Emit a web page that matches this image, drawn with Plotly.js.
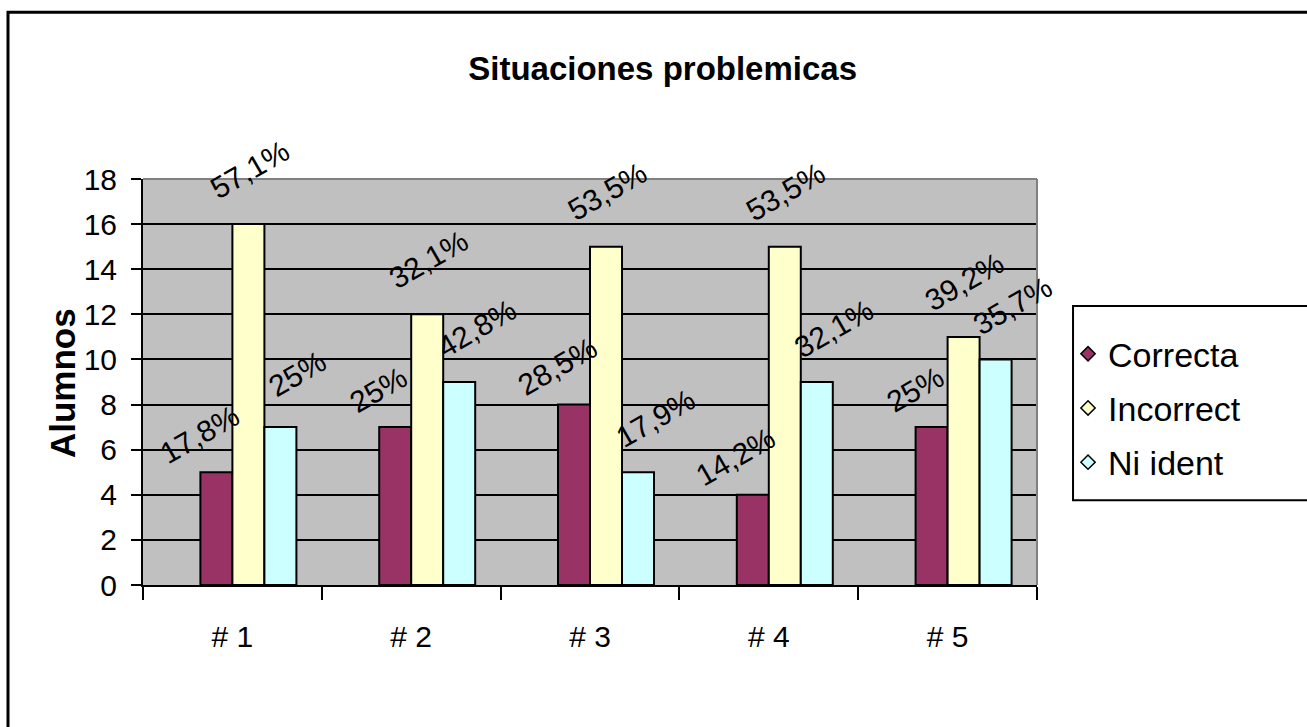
<!DOCTYPE html>
<html>
<head>
<meta charset="utf-8">
<script src="https://cdn.plot.ly/plotly-3.0.1.min.js"></script>
<style>html,body{margin:0;padding:0;background:#fff;}#chart{width:1307px;height:727px;}</style>
</head>
<body>
<div id="chart"></div>
<script>
var categories = ['# 1', '# 2', '# 3', '# 4', '# 5'];
var seriesNames = ['Correcta', 'Incorrect', 'Ni ident'];
var correcta = [5, 7, 8, 4, 7];
var incorrect = [16, 12, 15, 15, 11];
var niIdent = [7, 9, 5, 9, 10];
var labelsCorrecta = ['17,8%', '25%', '28,5%', '14,2%', '25%'];
var labelsIncorrect = ['57,1%', '32,1%', '53,5%', '53,5%', '39,2%'];
var labelsNiIdent = ['25%', '42,8%', '17,9%', '32,1%', '35,7%'];
var yTicks = [0, 2, 4, 6, 8, 10, 12, 14, 16, 18];

var FONT = '"Liberation Sans", Arial, sans-serif';
var colors = ['#993366', '#ffffcc', '#ccffff'];
var values = [correcta, incorrect, niIdent];
var labels = [labelsCorrecta, labelsIncorrect, labelsNiIdent];

var plotW = 1307 - 143 - 270;
var catPx = plotW / categories.length;
var barPx = 32;
var barW = barPx / catPx;
var offsets = [-barW, 0, barW];

var traces = [];
for (var s = 0; s < 3; s++) {
  traces.push({
    type: 'bar', x: categories, y: values[s], name: seriesNames[s],
    width: barW, offset: offsets[s],
    marker: {color: colors[s], line: {color: '#000', width: 2}},
    showlegend: false, hoverinfo: 'x+y'
  });
}
for (var s2 = 0; s2 < 3; s2++) {
  traces.push({
    type: 'scatter', mode: 'markers', x: [null], y: [null], name: seriesNames[s2],
    legendgroup: 'g' + s2,
    marker: {symbol: 'diamond', size: 11, color: colors[s2], line: {color: '#000', width: 1.5}},
    showlegend: true
  });
}

// label offsets per series (pixels, relative to bar top centre)
var labelDx = [-17, 1, 17];
var labelDy = [38, 55, 54];
var barCenterPx = [-16, 16, 48];
var annotations = [];
for (var s3 = 0; s3 < 3; s3++) {
  for (var i = 0; i < categories.length; i++) {
    annotations.push({
      x: categories[i], y: values[s3][i], xref: 'x', yref: 'y',
      text: labels[s3][i], showarrow: false, textangle: -30,
      xanchor: 'center', yanchor: 'middle',
      xshift: barCenterPx[s3] + labelDx[s3], yshift: labelDy[s3],
      font: {family: FONT, size: 30, color: '#000'}
    });
  }
}
annotations.push({
  x: -0.0906, y: 0.4975, xref: 'paper', yref: 'paper', text: '<b>Alumnos</b>',
  showarrow: false, textangle: -90, xanchor: 'center', yanchor: 'middle',
  font: {family: FONT, size: 35, color: '#000'}
});

var shapes = [
  {type: 'rect', xref: 'paper', yref: 'paper', x0: -0.151, x1: 1.4, y0: -0.5, y1: 1.411,
   line: {color: '#000', width: 3}, fillcolor: 'rgba(0,0,0,0)', layer: 'above'},
  {type: 'line', xref: 'paper', yref: 'paper', x0: 1, x1: 1, y0: 0, y1: 1,
   line: {color: '#808080', width: 2}, layer: 'above'},
  {type: 'line', xref: 'paper', yref: 'paper', x0: 0, x1: 1, y0: 1, y1: 1,
   line: {color: '#808080', width: 2}, layer: 'above'},
  {type: 'rect', xref: 'paper', yref: 'paper', x0: 1.0403, x1: 1.4, y0: 0.209, y1: 0.687,
   line: {color: '#000', width: 2}, fillcolor: 'rgba(0,0,0,0)', layer: 'above'}
];

var layout = {
  width: 1307, height: 727,
  margin: {l: 143, r: 270, t: 179, b: 142, autoexpand: false},
  paper_bgcolor: '#ffffff', plot_bgcolor: '#c0c0c0',
  barmode: 'overlay',
  title: {text: '<b>Situaciones problemicas</b>', xref: 'container', yref: 'container',
          x: 0.507, y: 0.906, xanchor: 'center', yanchor: 'middle',
          font: {family: FONT, size: 33, color: '#000'}},
  xaxis: {type: 'category', range: [-0.5, categories.length - 0.5], autorange: false,
          tickson: 'boundaries', ticks: 'outside', ticklen: 13,
          tickwidth: 2, tickcolor: '#000', showline: true, linecolor: '#000', linewidth: 2,
          showgrid: false, ticklabelstandoff: 24, automargin: false,
          tickfont: {family: FONT, size: 30, color: '#000'}, fixedrange: true},
  yaxis: {range: [0, 18], tickvals: yTicks, ticks: 'outside', ticklen: 10, tickwidth: 2,
          tickcolor: '#000', showline: true, linecolor: '#000', linewidth: 2,
          showgrid: true, gridcolor: '#000', gridwidth: 2, zeroline: false,
          ticklabelstandoff: 8, automargin: false,
          tickfont: {family: FONT, size: 30, color: '#000'}, fixedrange: true},
  legend: {x: 1.0347, y: 0.64, xanchor: 'left', yanchor: 'top', bgcolor: 'rgba(0,0,0,0)',
           borderwidth: 0, tracegroupgap: 7,
           font: {family: FONT, size: 34, color: '#000'}},
  annotations: annotations,
  shapes: shapes,
  showlegend: true
};

Plotly.newPlot('chart', traces, layout, {displayModeBar: false, staticPlot: true});
</script>
</body>
</html>
